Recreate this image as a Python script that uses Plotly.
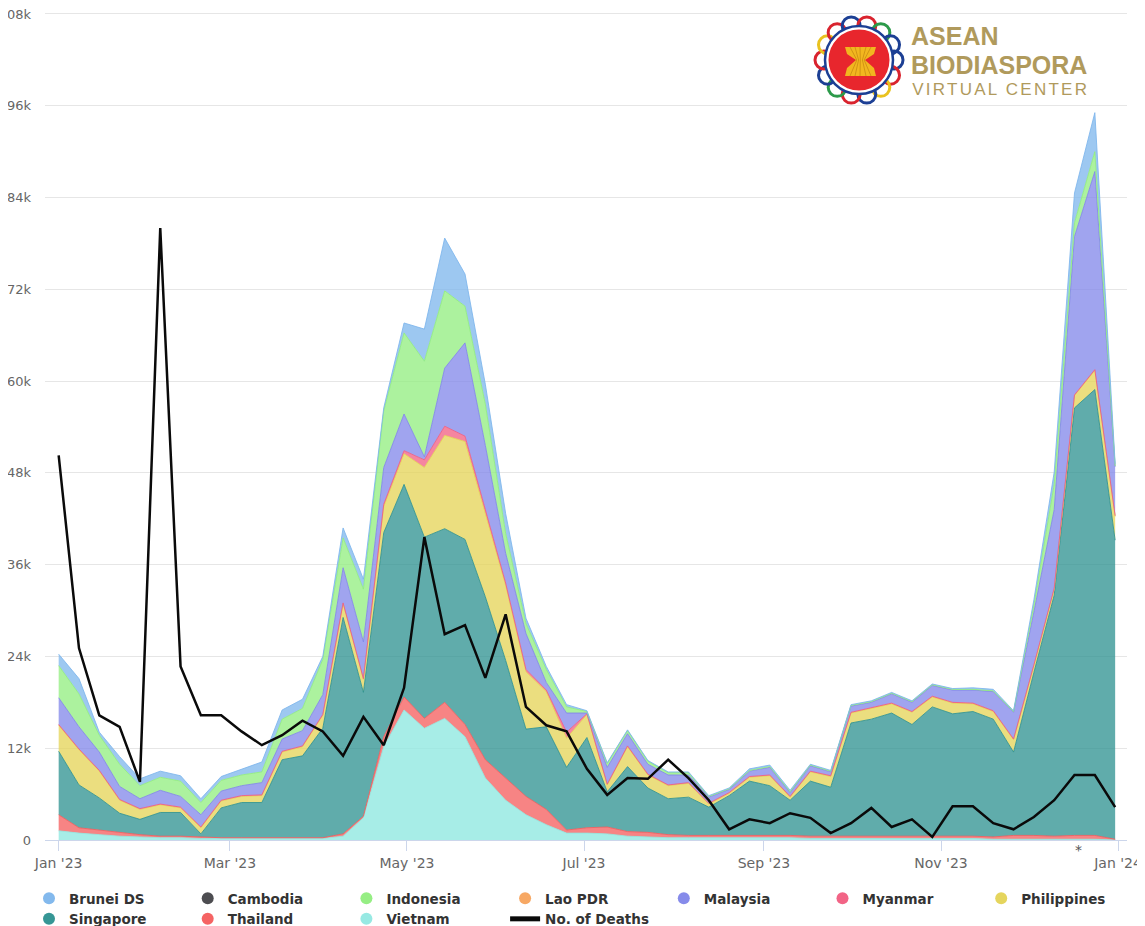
import math
import pandas as pd
import plotly.graph_objects as go

dates = pd.date_range("2023-01-01", periods=53, freq="7D")

vietnam = [1.2,0.9,0.7,0.5,0.4,0.3,0.3,0.2,0.2,0.2,0.2,0.2,0.2,0.2,0.5,2.9,12.2,17.0,14.6,15.9,13.5,8.1,5.2,3.3,2.0,0.9,0.9,0.8,0.5,0.4,0.3,0.3,0.3,0.3,0.3,0.3,0.3,0.2,0.2,0.2,0.2,0.2,0.2,0.2,0.2,0.2,0.1,0.1,0.1,0.1,0.1,0.1,0.0]
thailand = [2.1,0.7,0.6,0.5,0.3,0.2,0.2,0.2,0.1,0.1,0.1,0.1,0.1,0.1,0.3,0.2,1.3,1.7,1.3,2.1,1.6,2.4,2.9,2.4,2.0,0.4,0.7,0.9,0.6,0.6,0.4,0.3,0.3,0.3,0.3,0.3,0.3,0.3,0.3,0.3,0.3,0.3,0.3,0.3,0.3,0.3,0.3,0.5,0.5,0.4,0.5,0.5,0.1]
singapore = [8.3,5.6,4.2,2.5,2.0,3.1,3.1,0.4,3.9,4.6,4.6,10.2,10.7,14.3,28.3,16.2,26.7,27.8,23.7,22.7,24.2,21.3,15.4,8.8,10.8,8.2,11.8,4.6,8.5,5.8,4.7,5.0,3.7,5.2,7.1,6.5,4.6,7.2,6.4,14.8,15.3,16.1,14.6,16.9,16.0,16.3,15.4,10.9,21.3,31.5,55.9,58.3,39.1]
philippines = [3.4,4.6,3.5,1.7,1.3,1.0,0.6,0.8,0.9,0.8,0.9,1.0,1.2,1.7,1.8,1.7,3.4,4.0,9.1,12.2,12.8,11.0,9.8,7.5,4.6,3.8,3.0,0.9,2.6,1.7,1.7,1.8,0.4,0.3,0.5,1.3,0.4,1.2,1.4,1.3,1.4,1.2,1.6,1.3,1.4,1.0,1.0,1.6,0.9,0.8,1.6,2.5,3.1]
myanmar = [0.1,0.1,0.1,0.1,0.1,0.1,0.1,0.1,0.1,0.1,0.1,0.1,0.1,0.1,0.1,0.1,0.3,0.4,1.0,1.2,0.7,0.4,0.3,0.3,0.2,0.8,0.1,0.1,0.1,0.1,0.1,0.1,0.1,0.1,0.1,0.1,0.1,0.1,0.1,0.1,0.1,0.1,0.1,0.1,0.1,0.1,0.1,0.1,0.1,0.1,0.1,0.1,0.1]
malaysia = [3.5,2.9,2.4,1.7,1.3,1.8,1.4,1.6,1.2,1.3,1.6,1.6,2.0,2.6,4.6,4.8,4.8,4.8,0.4,7.6,12.2,8.4,3.9,4.7,1.0,2.5,0.1,2.2,1.6,1.3,1.3,1.0,0.8,0.4,0.7,1.0,0.5,0.7,0.5,0.8,0.7,1.2,1.2,1.4,1.6,1.7,2.5,3.5,6.9,10.3,20.7,25.9,6.4]
indonesia = [4.2,4.3,2.2,2.9,1.7,1.7,2.0,1.6,1.4,1.4,1.4,2.6,2.9,4.6,3.9,6.9,7.4,10.6,12.5,10.1,4.8,5.4,2.6,1.3,1.7,0.8,0.2,0.5,0.4,0.4,0.3,0.3,0.1,0.1,0.1,0.1,0.1,0.1,0.1,0.1,0.1,0.1,0.1,0.1,0.1,0.1,0.1,0.1,0.9,3.3,1.8,2.6,0.1]
brunei = [1.5,2.0,0.4,1.0,0.9,0.8,0.7,0.5,0.5,0.8,1.3,1.2,1.2,0.4,1.3,1.3,0.4,1.3,4.2,6.9,4.2,2.6,2.6,0.7,0.4,0.3,0.1,0.1,0.1,0.1,0.1,0.1,0.1,0.1,0.2,0.2,0.2,0.1,0.1,0.1,0.1,0.1,0.1,0.1,0.1,0.2,0.2,0.1,0.7,1.6,3.9,5.1,0.3]
deaths = [50.3,25.1,16.3,14.8,7.6,80.0,22.7,16.3,16.3,14.2,12.4,13.7,15.6,14.2,11.0,16.1,12.4,19.9,39.6,26.9,28.1,21.2,29.5,17.4,15.0,14.2,9.3,5.9,8.1,8.0,10.5,8.1,5.2,1.4,2.7,2.2,3.5,2.9,0.9,2.2,4.2,1.7,2.7,0.4,4.4,4.4,2.2,1.4,3.0,5.2,8.5,8.5,4.3]

legend_names = ["Brunei DS","Cambodia","Indonesia","Lao PDR","Malaysia","Myanmar","Philippines","Singapore","Thailand","Vietnam"]
legend_colors = ["#7cb5ec","#434348","#90ed7d","#f7a35c","#8085e9","#f15c80","#e4d354","#2b908f","#f45b5b","#91e8e1"]
y_ticks = [0,12,24,36,48,60,72,84,96,108]
y_labels = ["0","12k","24k","36k","48k","60k","72k","84k","96k","108k"]

def rgba(hex_color, a):
    h = hex_color.lstrip("#")
    return f"rgba({int(h[:2],16)},{int(h[2:4],16)},{int(h[4:],16)},{a})"

fig = go.Figure()
stack = [("Vietnam",vietnam,"#91e8e1",0.8),("Thailand",thailand,"#f45b5b",0.75),("Singapore",singapore,"#2b908f",0.75),
         ("Philippines",philippines,"#e4d354",0.75),("Myanmar",myanmar,"#f15c80",0.75),("Malaysia",malaysia,"#8085e9",0.75),
         ("Indonesia",indonesia,"#90ed7d",0.75),("Brunei DS",brunei,"#7cb5ec",0.75)]
for name, vals, col, a in stack:
    fig.add_trace(go.Scatter(x=dates, y=vals, name=name, mode="lines", stackgroup="one",
                             line=dict(color=rgba(col,0.85), width=1), fillcolor=rgba(col,a), showlegend=False))
for name, col in zip(legend_names, legend_colors):
    fig.add_trace(go.Scatter(x=[None], y=[None], name=name, mode="markers",
                             marker=dict(color=col, size=14, opacity=0.95)))
fig.add_trace(go.Scatter(x=dates, y=deaths, name="No. of Deaths", mode="lines",
                         line=dict(color="#0a0a0a", width=2.5)))

# page pixel -> paper fraction helpers (plot area: x 45..1127, y 12..840)
def fx(p): return (p-45)/1082
def fy(p): return (840-p)/828

shapes = []
cx, cy = 859, 60
def circle(r, cxx=cx, cyy=cy, fill=None, line=None, w=0):
    return dict(type="circle", xref="paper", yref="paper", x0=fx(cxx-r), x1=fx(cxx+r), y0=fy(cyy+r), y1=fy(cyy-r),
                fillcolor=fill or "rgba(0,0,0,0)", line=dict(color=line or "rgba(0,0,0,0)", width=w), layer="above")
ring_cols = ["#1c3f94","#d9232e","#e9c21f","#1c3f94","#d9232e","#2c9a4a","#1c3f94","#d9232e","#e9c21f","#d9232e","#1c3f94","#d9232e","#2c9a4a","#1c3f94"]
for k, c in enumerate(ring_cols):
    a = 2*math.pi*k/len(ring_cols)
    shapes.append(circle(9, cx+35*math.cos(a), cy+35*math.sin(a), None, c, 3))
shapes.append(circle(34, fill="#ffffff", line="#1c3f94", w=2.5))
shapes.append(circle(30.5, fill="#e8262d"))
def poly(points, fill):
    d = "M " + " L ".join(f"{fx(a)} {fy(b)}" for a, b in points) + " Z"
    return dict(type="path", xref="paper", yref="paper", path=d, fillcolor=fill, line=dict(width=0), layer="above")
shapes.append(poly([(845,47),(876,47),(874,54),(865,60),(874,68),(876,76),(845,76),(847,68),(856,60),(847,54)], "#f2b61f"))
for xs in (850,855,860,866,871):
    shapes.append(dict(type="line", xref="paper", yref="paper", x0=fx(xs), x1=fx(860.5+(xs-860.5)*0.35), y0=fy(47), y1=fy(60),
                       line=dict(color="#c98a12", width=0.8), layer="above"))
    shapes.append(dict(type="line", xref="paper", yref="paper", x0=fx(xs), x1=fx(860.5+(xs-860.5)*0.35), y0=fy(76), y1=fy(60),
                       line=dict(color="#c98a12", width=0.8), layer="above"))

gold = "#b09a5c"
annotations = [
    dict(text="<b>ASEAN</b>", x=fx(911), y=fy(36), font=dict(family="Liberation Sans", size=25, color=gold)),
    dict(text="<b>BIODIASPORA</b>", x=fx(911), y=fy(65), font=dict(family="Liberation Sans", size=25, color=gold)),
    dict(text="VIRTUAL CENTER", x=fx(928), y=fy(90), font=dict(family="Liberation Sans", size=17, color=gold)),
    dict(text="*", x=fx(1075), y=fy(850), font=dict(family="DejaVu Sans", size=14, color="#555555")),
]
for a in annotations:
    a.update(xref="paper", yref="paper", xanchor="left", yanchor="middle", showarrow=False, borderpad=0, borderwidth=0)

fig.update_layout(
    width=1145, height=930, paper_bgcolor="#ffffff", plot_bgcolor="#ffffff",
    margin=dict(l=37, r=26, t=4, b=98, autoexpand=False),
    shapes=shapes, annotations=annotations, hovermode="x",
    font=dict(family="DejaVu Sans", color="#666666"),
    legend=dict(orientation="h", x=fx(29), y=fy(883), xanchor="left", yanchor="top", traceorder="normal",
                entrywidth=113.7, entrywidthmode="pixels", bgcolor="rgba(0,0,0,0)", itemsizing="constant",
                font=dict(family="DejaVu Sans", size=13.5, color="#333333", weight="bold")),
    xaxis=dict(type="date", range=["2022-12-27 07:00","2024-01-04 02:00"], tick0="2023-01-01", dtick="M2", tickformat="%b '%y",
               showgrid=False, ticks="outside", ticklen=10, tickcolor="#ccd6eb", tickwidth=1, showline=True, linecolor="#ccd6eb",
               tickfont=dict(size=14, color="#666666"), zeroline=False, ticklabeloverflow="allow"),
    yaxis=dict(range=[0,108.26], tickmode="array", tickvals=y_ticks, ticktext=y_labels, gridcolor="#e6e6e6", gridwidth=1,
               zeroline=False, showline=False, ticks="", tickfont=dict(size=13, color="#666666"), ticklabelstandoff=13,
               ticklabeloverflow="allow"),
)
fig.write_html("out.html", post_script="""
document.documentElement.style.overflow='hidden';
document.querySelectorAll('.annotation-text').forEach(function(t){
  if(t.textContent==='VIRTUAL CENTER'){t.style.letterSpacing='2.25px';}
});
""")
